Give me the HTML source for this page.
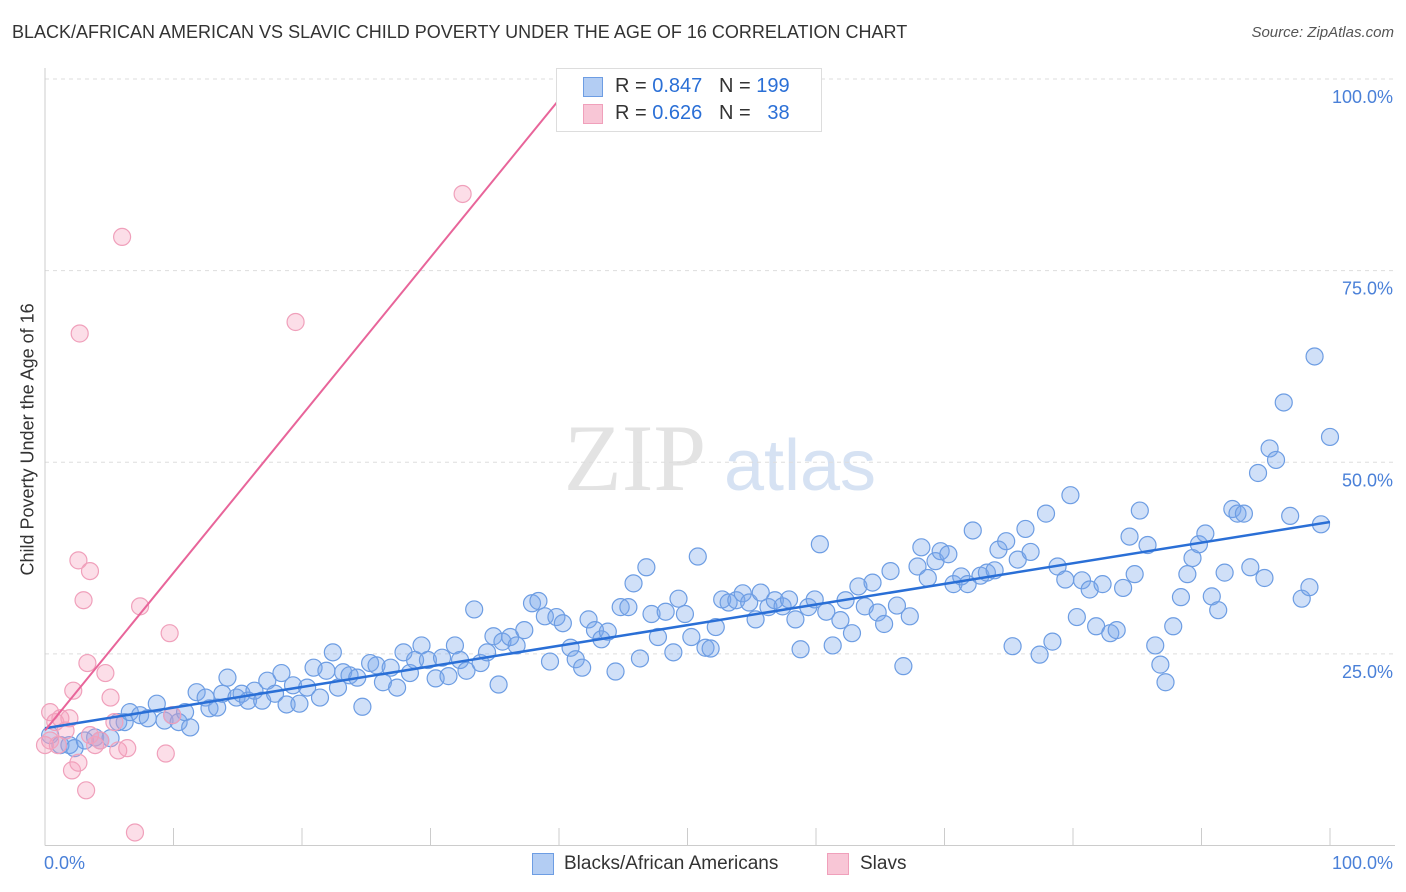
<!DOCTYPE html>
<html><head><meta charset="utf-8"><style>
body{margin:0;background:#fff;font-family:"Liberation Sans",sans-serif;}
#wrap{position:relative;width:1406px;height:892px;overflow:hidden}
.t{position:absolute;white-space:nowrap}
</style></head><body>
<div id="wrap">
<div class="t" style="left:12px;top:22px;font-size:18px;color:#333">BLACK/AFRICAN AMERICAN VS SLAVIC CHILD POVERTY UNDER THE AGE OF 16 CORRELATION CHART</div>
<div class="t" style="right:12px;top:24px;font-size:15px;color:#555;font-style:italic">Source: ZipAtlas.com</div>
<svg id="svg" width="1406" height="892" style="position:absolute;left:0;top:0"></svg>
</div>
<script>
const yTicks=[25,50,75,100];
const yTickLabels=["25.0%","50.0%","75.0%","100.0%"];
const xTicks=[0,10,20,30,40,50,60,70,80,90,100];
const blueX=[0.4,1.2,1.9,2.3,3.1,3.9,4.3,5.1,5.7,6.2,6.6,7.4,8.0,8.7,9.3,9.9,10.4,10.9,11.3,11.8,12.5,12.8,13.4,13.8,14.2,14.9,15.3,15.8,16.3,16.9,17.3,17.9,18.4,18.8,19.3,19.8,20.4,20.9,21.4,21.9,22.4,22.8,23.2,23.7,24.3,24.7,25.3,25.8,26.3,26.9,27.4,27.9,28.4,28.8,29.3,29.8,30.4,30.9,31.4,31.9,32.3,32.8,33.4,33.9,34.4,34.9,35.3,35.6,36.2,36.7,37.3,37.9,38.4,38.9,39.3,39.8,40.3,40.9,41.3,41.8,42.3,42.8,43.3,43.8,44.4,44.8,45.4,45.8,46.3,46.8,47.2,47.7,48.3,48.9,49.3,49.8,50.3,50.8,51.4,51.8,52.2,52.7,53.2,53.8,54.3,54.8,55.3,55.7,56.3,56.8,57.4,57.9,58.4,58.8,59.4,59.9,60.3,60.8,61.3,61.9,62.3,62.8,63.3,63.8,64.4,64.8,65.3,65.8,66.3,66.8,67.3,67.9,68.2,68.7,69.3,69.7,70.3,70.7,71.3,71.8,72.2,72.8,73.3,73.9,74.2,74.8,75.3,75.7,76.3,76.7,77.4,77.9,78.4,78.8,79.4,79.8,80.3,80.7,81.3,81.8,82.3,82.9,83.4,83.9,84.4,84.8,85.2,85.8,86.4,86.8,87.2,87.8,88.4,88.9,89.3,89.8,90.3,90.8,91.3,91.8,92.4,92.8,93.3,93.8,94.4,94.9,95.3,95.8,96.4,96.9,97.8,98.4,98.8,99.3,100.0];
const blueY=[14.4,13.1,13.1,12.7,13.7,14.1,13.7,14.0,16.1,16.1,17.4,17.0,16.6,18.5,16.3,17.0,16.1,17.4,15.4,20.0,19.3,17.9,18.0,19.8,21.9,19.3,19.8,18.9,20.2,18.9,21.5,19.8,22.5,18.4,20.9,18.5,20.6,23.2,19.3,22.8,25.2,20.6,22.6,22.2,21.9,18.1,23.8,23.5,21.3,23.2,20.6,25.2,22.5,24.2,26.1,24.2,21.8,24.5,22.1,26.1,24.2,22.8,30.8,23.8,25.2,27.3,21.0,26.6,27.2,26.1,28.1,31.6,31.9,29.9,24.0,29.8,29.0,25.8,24.3,23.2,29.5,28.1,26.9,27.9,22.7,31.1,31.1,34.2,24.4,36.3,30.2,27.2,30.5,25.2,32.2,30.2,27.2,37.7,25.8,25.7,28.5,32.1,31.7,32.0,32.9,31.7,29.5,33.0,31.1,32.0,31.2,32.1,29.5,25.6,31.1,32.1,39.3,30.5,26.1,29.4,32.0,27.7,33.8,31.2,34.3,30.4,28.9,35.8,31.3,23.4,29.9,36.4,38.9,34.9,37.1,38.4,38.0,34.1,35.1,34.1,41.1,35.2,35.6,35.9,38.6,39.7,26.0,37.3,41.3,38.3,24.9,43.3,26.6,36.4,34.7,45.7,29.8,34.6,33.4,28.6,34.1,27.7,28.1,33.6,40.3,35.4,43.7,39.2,26.1,23.6,21.3,28.6,32.4,35.4,37.5,39.3,40.7,32.5,30.7,35.6,43.9,43.3,43.3,36.3,48.6,34.9,51.8,50.3,57.8,43.0,32.2,33.7,63.8,41.9,53.3];
const pinkX=[0.4,0.8,0.4,1.2,1.6,1.9,2.1,2.6,2.2,2.7,2.6,3.0,3.2,3.3,3.5,3.9,4.3,4.7,5.1,5.7,6.0,6.4,7.0,7.4,9.4,9.7,9.9,19.5,32.5,0,1,5.4,3.5];
const pinkY=[17.4,16.1,13.7,16.6,15.0,16.6,9.8,10.8,20.2,66.8,37.2,32.0,7.2,23.8,35.8,13.1,13.7,22.5,19.3,12.4,79.4,12.7,1.7,31.2,12.0,27.7,17.0,68.3,85.0,13.1,13.1,16.1,14.4];
const blueLine=[[0,15.3],[100,42.2]];
const pinkLine=[[0,15.0],[40,97.3]];
const NS="http://www.w3.org/2000/svg";
const svg=document.getElementById('svg');
const X0=45,X1=1330,Y0=845.5,Y1=79;
const sx=v=>X0+(X1-X0)*v/100, sy=v=>Y0-(Y0-Y1)*v/100;
function mk(tag,attrs,parent){const e=document.createElementNS(NS,tag);for(const k in attrs)e.setAttribute(k,attrs[k]);(parent||svg).appendChild(e);return e;}
// watermark
let wm=mk('text',{x:635,y:490,'font-size':95,'font-family':'Liberation Serif','fill':'#e3e3e3','text-anchor':'middle'});
wm.textContent='ZIP';


let wm2=mk('text',{x:800,y:490,'font-size':72,'font-family':'Liberation Sans','fill':'#d6e2f3','text-anchor':'middle'});
wm2.textContent='atlas';


// grid
yTicks.forEach((t,i)=>{
 let g=mk('line',{x1:X0,x2:1395,y1:sy(t),y2:sy(t),stroke:'#ddd','stroke-dasharray':'4,4'});
 
 
 let l=mk('text',{x:1393,y:sy(t)+24,'font-size':18,fill:'#4a80d8','text-anchor':'end','font-family':'Liberation Sans'});
 l.textContent=yTickLabels[i];
 
 
});
let ax=mk('line',{x1:X0,x2:1395,y1:Y0,y2:Y0,stroke:'#ccc'});


let ay=mk('line',{x1:X0,x2:X0,y1:68,y2:Y0,stroke:'#ccc'});


xTicks.forEach(t=>{
 let k=mk('line',{x1:sx(t),x2:sx(t),y1:828,y2:Y0,stroke:'#ccc'});
 
 
});
function pts(xs,ys,fill,stroke,name){
 xs.forEach((x,i)=>{
  let c=mk('circle',{cx:sx(x),cy:sy(ys[i]),r:8.5,fill:fill,stroke:stroke,'stroke-width':1.2});
  
  
 });
}
pts(blueX,blueY,'rgba(120,165,235,0.35)','#6d9de3','blue-point');
pts(pinkX,pinkY,'rgba(245,160,190,0.35)','#f0a0bb','pink-point');
let bl=mk('line',{x1:sx(blueLine[0][0]),y1:sy(blueLine[0][1]),x2:sx(blueLine[1][0]),y2:sy(blueLine[1][1]),stroke:'#2a6fd6','stroke-width':2.5});


let pl=mk('line',{x1:sx(pinkLine[0][0]),y1:sy(pinkLine[0][1]),x2:sx(pinkLine[1][0]),y2:sy(pinkLine[1][1]),stroke:'#e8659a','stroke-width':2});


</script>
<div class="t" style="left:44px;top:853px;font-size:18px;color:#4a80d8">0.0%</div>
<div class="t" style="right:13px;top:853px;font-size:18px;color:#4a80d8">100.0%</div>
<div class="t" style="left:-92px;top:445px;font-size:18px;color:#333;transform:rotate(-90deg);width:240px;text-align:center">Child Poverty Under the Age of 16</div>
<div style="position:absolute;left:556px;top:68px;width:264px;height:62px;background:#fff;border:1px solid #ddd;font-size:20px;color:#333">
 <div style="position:absolute;left:26px;top:8px;width:18px;height:18px;background:#b3cdf3;border:1px solid #6d9de3"></div>
 <div class="t" style="left:58px;top:6px">R = <span style="color:#2a6fd6">0.847</span>&nbsp;&nbsp;&nbsp;N = <span style="color:#2a6fd6">199</span></div>
 <div style="position:absolute;left:26px;top:35px;width:18px;height:18px;background:#f8c6d6;border:1px solid #f0a0bb"></div>
 <div class="t" style="left:58px;top:33px">R = <span style="color:#2a6fd6">0.626</span>&nbsp;&nbsp;&nbsp;N = &nbsp;&nbsp;<span style="color:#2a6fd6">38</span></div>
</div>
<div style="position:absolute;left:532px;top:853px;width:20px;height:20px;background:#b3cdf3;border:1px solid #6d9de3"></div>
<div class="t" style="left:564px;top:853px;font-size:19px;color:#333">Blacks/African Americans</div>
<div style="position:absolute;left:827px;top:853px;width:20px;height:20px;background:#f8c6d6;border:1px solid #f0a0bb"></div>
<div class="t" style="left:860px;top:853px;font-size:19px;color:#333">Slavs</div>
</body></html>
